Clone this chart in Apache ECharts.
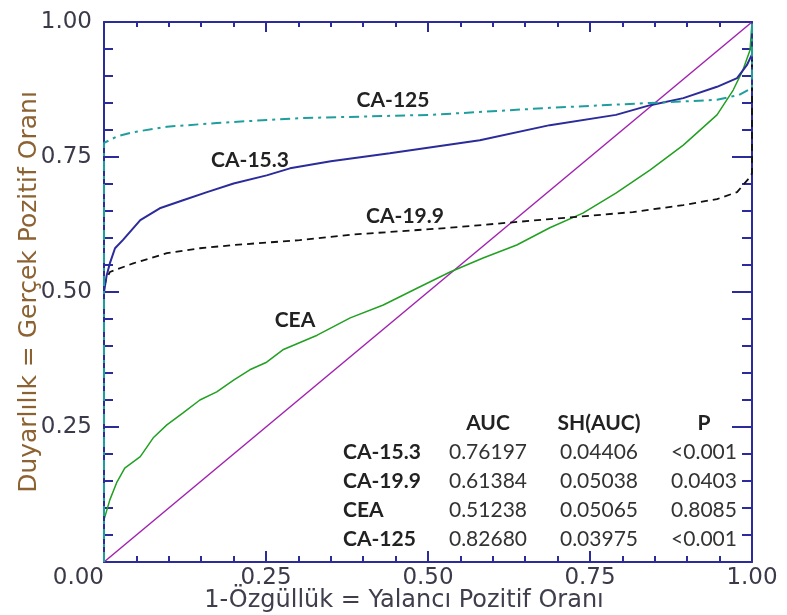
<!DOCTYPE html>
<html lang="tr">
<head>
    <meta charset="UTF-8">
    <title>ROC eğrileri</title>
    <script src="https://cdn.jsdelivr.net/npm/echarts@6/dist/echarts.min.js"></script>
    <style>
        body { margin: 0; background: #fff; }
        #container { width: 787px; height: 615px; }
    </style>
</head>
<body>
<div id="container"></div>
<script>
    // okunan noktalar: [1-özgüllük, duyarlılık]
    var ca153 = [[0, 0], [0, 0.50], [0.004, 0.53], [0.009, 0.553], [0.017, 0.581], [0.029, 0.596], [0.056, 0.633],
        [0.086, 0.655], [0.122, 0.670], [0.159, 0.685], [0.2, 0.701], [0.251, 0.716], [0.287, 0.729], [0.35, 0.742],
        [0.441, 0.757], [0.58, 0.781], [0.688, 0.809], [0.79, 0.828], [0.843, 0.846], [0.894, 0.859],
        [0.946, 0.880], [0.977, 0.896], [0.992, 0.920], [1, 0.94], [1, 1]];
    var ca199 = [[0, 0], [0, 0.51], [0.003, 0.522], [0.009, 0.537], [0.045, 0.553], [0.097, 0.572], [0.148, 0.581],
        [0.2, 0.587], [0.302, 0.596], [0.38, 0.606], [0.534, 0.619], [0.688, 0.635], [0.816, 0.648],
        [0.894, 0.661], [0.946, 0.672], [0.977, 0.685], [0.997, 0.713], [1, 0.72], [1, 1]];
    var cea = [[0, 0], [0, 0.078], [0.009, 0.115], [0.02, 0.148], [0.032, 0.174], [0.056, 0.195], [0.076, 0.230],
        [0.097, 0.254], [0.122, 0.276], [0.148, 0.300], [0.174, 0.315], [0.2, 0.337], [0.225, 0.356],
        [0.251, 0.370], [0.276, 0.393], [0.329, 0.420], [0.38, 0.452], [0.431, 0.476], [0.483, 0.507],
        [0.534, 0.537], [0.585, 0.563], [0.637, 0.587], [0.688, 0.619], [0.739, 0.646], [0.79, 0.683],
        [0.843, 0.726], [0.894, 0.772], [0.946, 0.828], [0.971, 0.874], [0.986, 0.911], [0.997, 0.948], [1, 1]];
    var ca125 = [[0, 0], [0, 0.776], [0.02, 0.788], [0.045, 0.796], [0.097, 0.806], [0.174, 0.813], [0.302, 0.822],
        [0.503, 0.828], [0.688, 0.841], [0.843, 0.850], [0.946, 0.856], [0.98, 0.865], [1, 0.878], [1, 1]];
    var diagonal = [[0, 0], [1, 1]];

    var curveNames = ['CA-15.3', 'CA-19.9', 'CEA', 'CA-125'];
    var tableHeader = ['AUC', 'SH(AUC)', 'P'];
    var aucValues = ['0.76197', '0.61384', '0.51238', '0.82680'];
    var shValues = ['0.04406', '0.05038', '0.05065', '0.03975'];
    var pValues = ['<0.001', '0.0403', '0.8085', '<0.001'];

    var axisColor = '#2b2b9b';
    var labelFont = 'bold 21px Lato';
    var cellFont = '21px Lato';

    function valueAxis(extra) {
        var axis = {
            type: 'value', min: 0, max: 1, interval: 0.25,
            splitLine: {show: false},
            nameMoveOverlap: false,
            axisLine: {onZero: false, lineStyle: {color: axisColor, width: 2}},
            axisTick: {inside: true, lineStyle: {color: axisColor, width: 2}},
            minorTick: {show: true, splitNumber: 5, lineStyle: {color: axisColor, width: 2}},
            axisLabel: {
                fontFamily: 'DejaVu Sans', fontSize: 23, color: '#3a3a4a',
                formatter: function (v) { return v.toFixed(2); }
            }
        };
        for (var k in extra) {
            if (typeof extra[k] === 'object' && axis[k]) {
                axis[k] = Object.assign({}, axis[k], extra[k]);
            } else {
                axis[k] = extra[k];
            }
        }
        return axis;
    }

    // eğri etiketleri ve tablo
    var graphics = [];
    var curveLabelPos = [[250, 160], [405, 216], [295, 320], [393, 100]];
    curveNames.forEach(function (n, i) {
        graphics.push({type: 'text', x: curveLabelPos[i][0], y: curveLabelPos[i][1],
            style: {text: n, font: labelFont, fill: '#222', align: 'center', verticalAlign: 'middle'}});
    });
    var colX = [488, 599, 704];
    tableHeader.forEach(function (h, i) {
        graphics.push({type: 'text', x: colX[i], y: 423,
            style: {text: h, font: labelFont, fill: '#222', align: 'center', verticalAlign: 'middle'}});
    });
    curveNames.forEach(function (n, r) {
        var y = 452 + r * 29;
        graphics.push({type: 'text', x: 343, y: y,
            style: {text: n, font: labelFont, fill: '#222', align: 'left', verticalAlign: 'middle'}});
        [aucValues[r], shValues[r], pValues[r]].forEach(function (v, c) {
            graphics.push({type: 'text', x: colX[c], y: y,
                style: {text: v, font: cellFont, fill: '#333', align: 'center', verticalAlign: 'middle'}});
        });
    });

    var myChart = echarts.init(document.getElementById('container'));
    var option = {
        animation: false,
        backgroundColor: '#fff',
        grid: {left: 104, top: 22, width: 648, height: 540, containLabel: false, outerBoundsMode: 'none'},
        xAxis: [
            valueAxis({
                position: 'bottom',
                name: '1-Özgüllük = Yalancı Pozitif Oranı', nameLocation: 'middle', nameGap: 27,
                nameTextStyle: {fontFamily: 'DejaVu Sans', fontSize: 24, color: '#3e3e4c', padding: [0, 48, 0, 0]},
                axisTick: {length: 11},
                minorTick: {length: 6},
                axisLabel: {margin: 5, alignMinLabel: 'right'}
            }),
            valueAxis({
                position: 'top',
                axisTick: {length: 10},
                minorTick: {length: 5},
                axisLabel: {show: false}
            })
        ],
        yAxis: [
            valueAxis({
                position: 'left',
                name: 'Duyarlılık = Gerçek Pozitif Oranı', nameLocation: 'middle', nameGap: 62,
                nameTextStyle: {fontFamily: 'DejaVu Sans', fontSize: 25, color: '#8d6232'},
                axisTick: {length: 15},
                minorTick: {length: 9},
                axisLabel: {margin: 12, showMinLabel: false}
            }),
            valueAxis({
                position: 'right',
                axisTick: {length: 20},
                minorTick: {length: 10},
                axisLabel: {show: false}
            })
        ],
        series: [
            {type: 'line', data: diagonal, showSymbol: false, silent: true,
                lineStyle: {color: '#a323b0', width: 1.5}},
            {type: 'line', name: 'CEA', data: cea, showSymbol: false, silent: true,
                lineStyle: {color: '#22a022', width: 1.5}},
            {type: 'line', name: 'CA-19.9', data: ca199, showSymbol: false, silent: true,
                lineStyle: {color: '#111', width: 1.8, type: [7, 5]}},
            {type: 'line', name: 'CA-15.3', data: ca153, showSymbol: false, silent: true,
                lineStyle: {color: '#2b2b9b', width: 2}},
            {type: 'line', name: 'CA-125', data: ca125, showSymbol: false, silent: true,
                lineStyle: {color: '#1f9e9e', width: 2, type: [10, 5, 3, 5]}}
        ],
        graphic: graphics
    };
    myChart.setOption(option, true);
</script>
</body>
</html>
